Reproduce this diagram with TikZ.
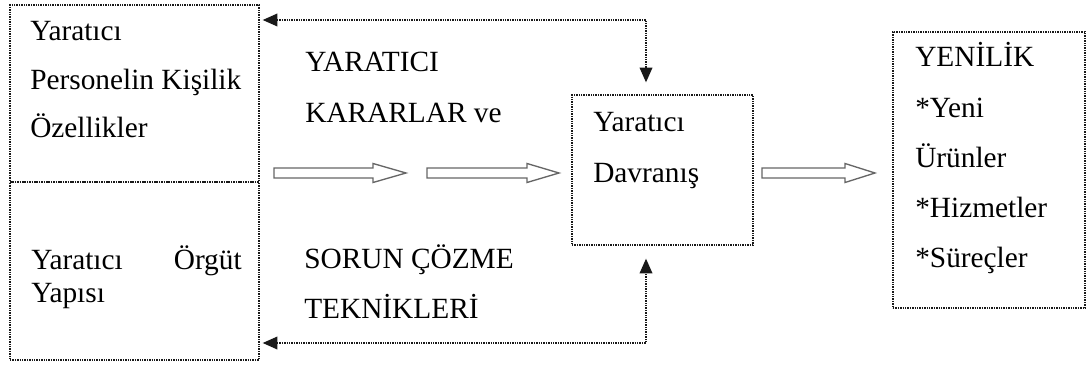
\documentclass[tikz,border=0pt]{standalone}
\usepackage{fontspec}
\setmainfont{Liberation Serif}
\usetikzlibrary{arrows.meta}
\tikzset{
  dotbox/.style={draw=black!90, line width=1pt, dash pattern=on 1pt off 0.8pt, inner sep=0pt},
  txt/.style={anchor=base west, inner sep=0pt, font=\fontsize{22}{26}\selectfont, text=black},
  txtr/.style={txt, anchor=base east},
  dotarr/.style={draw=black!90, line width=1pt, dash pattern=on 1pt off 0.8pt,
     {Triangle[length=11pt,width=9.5pt]}-{Triangle[length=11pt,width=9.5pt]}},
  barrow/.style={draw=black!60, line width=1pt, fill=white, line join=miter}
}
\newcommand\blockarr[4]{%
  \draw[barrow] (#1,#4-5) -- (#2,#4-5) -- (#2,#4-9.5) -- (#3,#4) -- (#2,#4+9.5) -- (#2,#4+5) -- (#1,#4+5) -- cycle;}
\begin{document}
\begin{tikzpicture}[x=0.75pt,y=-0.75pt]
\useasboundingbox (0,0) rectangle (1088,367);
% boxes
\node[dotbox, minimum width=186.75pt, minimum height=132.75pt] (ltop) at (134.5,93.5) {};
\node[dotbox, minimum width=186.75pt, minimum height=133.5pt] (lbot) at (134.5,271) {};
\node[dotbox, minimum width=135.75pt, minimum height=112.5pt] (mid) at (662.5,170) {};
\node[dotbox, minimum width=144pt, minimum height=207pt] (right) at (989,170) {};
% left top text
\node[txt] (l1) at (30,41) {Yaratıcı};
\node[txt] (l2) at (30,90) {Personelin Kişilik};
\node[txt] (l3) at (30,138) {Özellikler};
% left bottom text
\node[txt] (l4) at (31,269) {Yaratıcı};
\node[txtr] (l5) at (242,269) {Örgüt};
\node[txt] (l6) at (31,302) {Yapısı};
% middle labels
\node[txt] (m1) at (305,72) {YARATICI};
\node[txt] (m2) at (305,123) {KARARLAR ve};
\node[txt] (m3) at (304,268) {SORUN ÇÖZME};
\node[txt] (m4) at (304,318) {TEKNİKLERİ};
% middle box text
\node[txt] (d1) at (593,132) {Yaratıcı};
\node[txt] (d2) at (593,182) {Davranış};
% right box text
\node[txt] (r1) at (915,67) {YENİLİK};
\node[txt] (r2) at (915,118) {*Yeni};
\node[txt] (r3) at (915,168) {Ürünler};
\node[txt] (r4) at (915,217) {*Hizmetler};
\node[txt] (r5) at (915,267) {*Süreçler};
% dotted feedback arrows
\coordinate (tc) at (646,20);
\coordinate (bc) at (646,343);
\draw[dotarr, shorten <=2.25pt, shorten >=9pt] (ltop.east |- tc) -- (tc) -- (mid.north -| tc);
\draw[dotarr, shorten <=2.25pt, shorten >=9.75pt] (lbot.east |- bc) -- (bc) -- (mid.south -| bc);
% block arrows
\blockarr{274}{373}{406}{173}
\blockarr{427}{527}{559}{173}
\blockarr{762}{845}{875}{173}
\end{tikzpicture}
\end{document}
